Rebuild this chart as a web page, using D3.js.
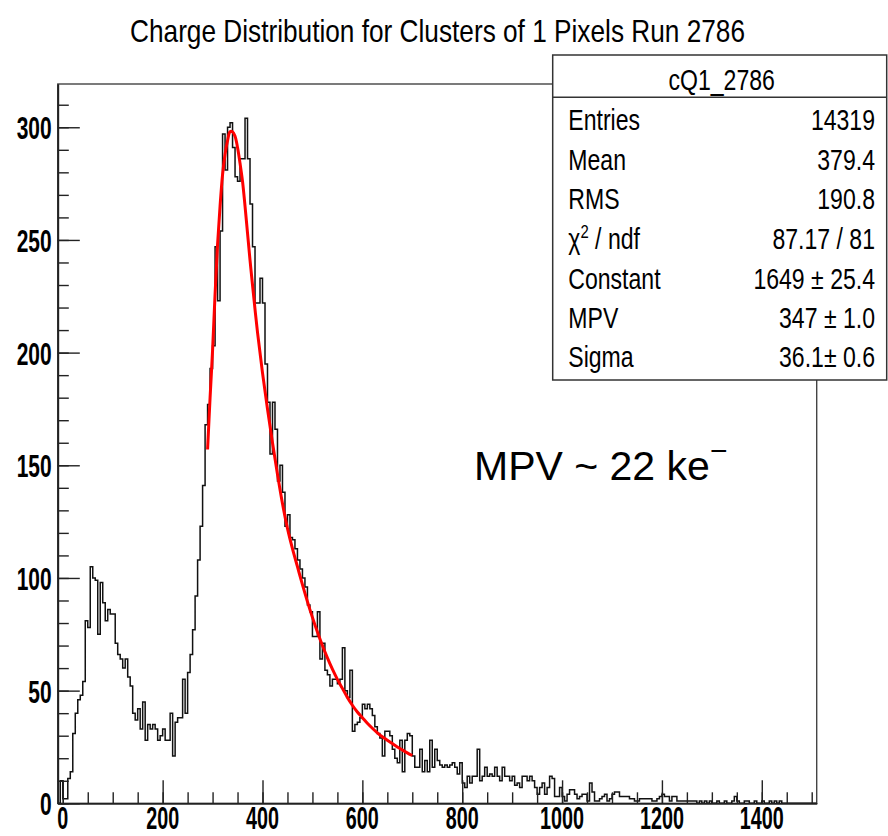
<!DOCTYPE html>
<html><head><meta charset="utf-8">
<script src="https://cdn.jsdelivr.net/npm/d3@7"></script>
<style>body{margin:0;background:#fff}svg{display:block}</style>
</head><body>
<svg id="c" width="888" height="836"></svg>
<script>
// ---------------- data ----------------
const title = "Charge Distribution for Clusters of 1 Pixels Run 2786";
const firstBinLow = -10;
const binWidth = 5;
const counts = [
  0, 10, 2, 2, 11, 14, 31, 40, 46, 48,
  54, 81, 78, 105, 100, 99, 75, 98, 89, 81,
  86, 84, 84, 71, 66, 64, 60, 64, 56, 52,
  40, 37, 42, 33, 45, 28, 35, 33, 35, 33,
  28, 30, 33, 28, 28, 40, 21, 36, 38, 38,
  55, 40, 58, 66, 77, 92, 108, 123, 141, 168,
  177, 193, 203, 247, 223, 254, 297, 281, 300, 302,
  291, 278, 276, 286, 286, 304, 286, 266, 247, 222,
  222, 233, 222, 195, 178, 155, 178, 166, 143, 150,
  138, 123, 128, 118, 117, 113, 108, 104, 100, 96,
  88, 85, 74, 74, 85, 64, 71, 59, 57, 52,
  55, 55, 53, 55, 69, 50, 47, 59, 32, 35,
  36, 38, 44, 42, 44, 42, 39, 34, 31, 29,
  21, 32, 32, 30, 24, 20, 18, 28, 14, 28,
  31, 30, 21, 16, 16, 24, 14, 19, 14, 28,
  16, 24, 19, 17, 16, 17, 16, 17, 18, 16,
  13, 18, 9, 7, 12, 9, 12, 12, 24, 10,
  12, 16, 12, 13, 12, 16, 12, 10, 16, 12,
  12, 10, 12, 8, 9, 7, 12, 12, 10, 12,
  10, 7, 4, 7, 9, 4, 7, 12, 11, 3,
  3, 7, 3, 1, 4, 6, 6, 4, 2, 3,
  4, 4, 1, 9, 5, 1, 1, 2, 3, 4,
  1, 2, 4, 5, 5, 3, 3, 3, 3, 2,
  2, 1, 1, 2, 2, 2, 2, 2, 1, 1,
  2, 3, 4, 3, 3, 1, 3, 3, 1, 1,
  1, 1, 1, 1, 1, 1, 0, 1, 0, 1,
  0, 1, 0, 0, 1, 0, 0, 1, 0, 0,
  1, 3, 1, 0, 0, 1, 1, 0, 0, 1,
  0, 0, 1, 0, 0, 1, 0, 1, 0, 1,
  0, 0, 0, 0, 0, 0, 0, 0, 0, 0,
  0, 0, 0, 0
];
const fitX = [290,295,300,305,310,315,320,325,330,335,340,345,350,355,360,365,370,375,380,390,400,410,420,430,440,450,460,470,480,490,500,510,520,530,540,550,560,570,580,590,600,610,620,630,640,650,660,670,680,690,700];
const fitY = [157,180,201,226,248,265,279,288,294,298,298,296,291,284,276,265,253,241,230,209,191,175,160,146,133,122,113,105,97,89.5,82.5,76,70,64.5,59.5,55,51,47,43.5,40.5,38,35.5,33.3,31.3,29.5,28,26.5,25,23.7,22.4,21.2];
const xMajorTicks = [0,200,400,600,800,1000,1200,1400];
const xMinorTicks = d3.range(0, 1501, 50);
const yMajorTicks = [0,50,100,150,200,250,300];
const yMinorTicks = d3.range(0, 311, 10);
const xDomain = [-10, 1510];
const yDomain = [0, 319.2];
const statsTitle = "cQ1_2786";
const statsNames = ["Entries","Mean","RMS","\u03C7|2| / ndf","Constant","MPV","Sigma"];
const statsValues = ["14319","379.4","190.8","87.17 / 81","1649 \u00B1 25.4","347 \u00B1 1.0","36.1\u00B1 0.6"];
const annotation = "MPV ~ 22 ke";

// ---------------- drawing ----------------
const svg = d3.select("#c");
const FN = "'Liberation Sans Narrow','Liberation Sans',Arial,sans-serif";
const FA = "'Liberation Sans',Arial,sans-serif";
const L = 57.8, R = 816.7, T = 84, B = 803.3;
const x = d3.scaleLinear().domain(xDomain).range([L, R]);
const y = d3.scaleLinear().domain(yDomain).range([B, T]);

svg.append("rect").attr("width",888).attr("height",836).attr("fill","#fff");

function measure(str, size, weight, family){
  const t = svg.append("text").attr("font-family",family).attr("font-size",size)
    .attr("font-weight",weight).text(str);
  const w = t.node().getComputedTextLength(); t.remove(); return w;
}

// frame
svg.append("rect").attr("x",L).attr("y",T).attr("width",R-L).attr("height",B-T)
  .attr("fill","none").attr("stroke","#444").attr("stroke-width",1.4);

// histogram outline
const pts = [[x(firstBinLow), y(0)]];
counts.forEach((c,i)=>{
  const lo = firstBinLow + i*binWidth, hi = lo + binWidth;
  pts.push([x(lo), y(c)]); pts.push([x(hi), y(c)]);
});
pts.push([x(firstBinLow + counts.length*binWidth), y(0)]);
svg.append("path").attr("d", d3.line()(pts)).attr("fill","none")
  .attr("stroke","#111").attr("stroke-width",1.5);

// fit curve
const fitPts = fitX.map((v,i)=>[x(v), y(fitY[i])]);
svg.append("path").attr("d", d3.line().curve(d3.curveCatmullRom)(fitPts))
  .attr("fill","none").attr("stroke","#ff0000").attr("stroke-width",3);

// axes ticks
const gx = svg.append("g").attr("transform",`translate(0,${B})`);
gx.call(d3.axisBottom(x).tickValues(xMinorTicks).tickSize(-11).tickSizeOuter(0).tickFormat(""));
gx.append("g").call(d3.axisBottom(x).tickValues(xMajorTicks).tickSize(-23).tickSizeOuter(0).tickFormat(""));
const gy = svg.append("g").attr("transform",`translate(${L},0)`);
gy.call(d3.axisLeft(y).tickValues(yMinorTicks).tickSize(-11).tickSizeOuter(0).tickFormat(""));
gy.append("g").call(d3.axisLeft(y).tickValues(yMajorTicks).tickSize(-22).tickSizeOuter(0).tickFormat(""));
svg.selectAll(".domain").attr("stroke","#222").attr("stroke-width",1.6);
svg.selectAll(".tick line").attr("stroke","#222").attr("stroke-width",1.4);

// tick labels
const lblSize = 32;
const ky = 35 / measure("300", lblSize, "bold", FN);
yMajorTicks.forEach(v=>{
  svg.append("text").attr("font-family",FN).attr("font-weight","bold").attr("font-size",lblSize)
    .attr("text-anchor","end").attr("fill","#000")
    .attr("transform",`translate(51.7,${y(v)+12}) scale(${ky},1)`).text(v);
});
const xlSize = 31;
const kx = 33 / measure("200", xlSize, "bold", FN);
xMajorTicks.forEach(v=>{
  svg.append("text").attr("font-family",FN).attr("font-weight","bold").attr("font-size",xlSize)
    .attr("text-anchor","middle").attr("fill","#000")
    .attr("transform",`translate(${x(v)},829) scale(${kx},1)`).text(v);
});

// title
const tSize = 32;
const kt = 615 / measure(title, tSize, "normal", FN);
svg.append("text").attr("font-family",FN).attr("font-size",tSize).attr("text-anchor","middle")
  .attr("transform",`translate(437.5,42) scale(${kt},1)`).text(title);

// stats box
const bx0 = 552.7, by0 = 55, bx1 = 886.7, by1 = 380;
svg.append("rect").attr("x",bx0).attr("y",by0).attr("width",bx1-bx0).attr("height",by1-by0)
  .attr("fill","#fff").attr("stroke","#333").attr("stroke-width",1.5);
svg.append("line").attr("x1",bx0).attr("x2",bx1).attr("y1",97.3).attr("y2",97.3)
  .attr("stroke","#333").attr("stroke-width",1.5);
const sSize = 29.5;
const ks = 92.3 / measure("Constant", sSize, "normal", FN);
svg.append("text").attr("font-family",FN).attr("font-size",sSize).attr("text-anchor","middle")
  .attr("transform",`translate(721.7,90) scale(${ks},1)`).text(statsTitle);
const rowBase = [129.5,170,209,249,288.5,328,367];
statsNames.forEach((n,i)=>{
  const t = svg.append("text").attr("font-family",FN).attr("font-size",sSize)
    .attr("transform",`translate(568.3,${rowBase[i]}) scale(${ks},1)`);
  const parts = n.split("|");
  if(parts.length===3){
    t.append("tspan").text(parts[0]);
    t.append("tspan").attr("font-size",19).attr("dy",-11).text(parts[1]);
    t.append("tspan").attr("dy",11).text(parts[2]);
  } else t.text(n);
  svg.append("text").attr("font-family",FN).attr("font-size",sSize).attr("text-anchor","end")
    .attr("transform",`translate(875,${rowBase[i]}) scale(${ks},1)`).text(statsValues[i]);
});

// annotation
const at = svg.append("text").attr("font-family",FA).attr("font-size",41).attr("x",474).attr("y",480)
  .attr("fill","#000");
at.append("tspan").text(annotation);
at.append("tspan").attr("font-size",30).attr("dy",-19).text("\u2212");
</script>
</body></html>
